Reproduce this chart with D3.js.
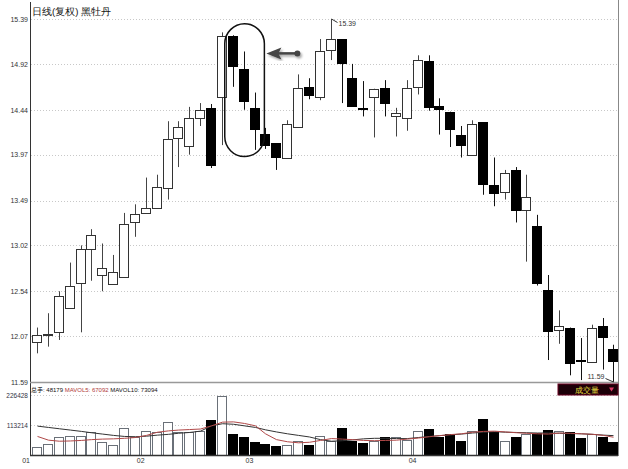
<!DOCTYPE html>
<html>
<head>
<meta charset="utf-8">
<script src="https://cdn.jsdelivr.net/npm/d3@7"></script>
<style>
  html, body { margin: 0; padding: 0; background: #fff; }
  svg { display: block; }
  text { font-family: "Liberation Sans", Arial, sans-serif; }
</style>
</head>
<body>
<svg id="chart" width="628" height="469"></svg>
<script>
// daily candles, 黑牡丹
const opens = [12.01, 12.08, 12.11, 12.37, 12.62, 12.98, 12.71, 12.61, 12.68, 13.27,
  13.36, 13.41, 13.62, 14.14, 14.06, 14.36, 14.46, 14.57, 15.21, 14.87,
  14.46, 14.19, 14.09, 13.93, 14.26, 14.68, 14.58, 15.06, 15.18, 14.77,
  14.46, 14.58, 14.67, 14.38, 14.36, 14.68, 14.95, 14.48, 14.42, 14.18,
  13.97, 14.31, 13.65, 13.58, 13.81, 13.39, 13.22, 12.55, 12.14, 12.16,
  11.82, 11.80, 12.18, 11.94];
const highs = [12.16, 12.31, 12.54, 12.84, 13.02, 13.19, 13.04, 12.92, 13.36, 13.45,
  13.73, 13.76, 14.32, 14.32, 14.47, 14.51, 14.50, 15.25, 15.22, 15.05,
  14.62, 14.25, 14.09, 14.33, 14.81, 14.77, 15.18, 15.39, 15.18, 14.92,
  14.74, 14.66, 14.75, 14.46, 14.75, 15.01, 15.01, 14.56, 14.42, 14.27,
  14.33, 14.31, 13.94, 13.81, 13.84, 13.76, 13.34, 12.71, 12.34, 12.16,
  12.05, 12.19, 12.26, 11.98];
const lows = [11.89, 11.96, 12.03, 12.36, 12.11, 12.65, 12.54, 12.61, 12.68, 13.11,
  13.35, 13.41, 13.50, 13.84, 13.97, 14.27, 13.83, 14.07, 14.68, 14.44,
  14.02, 14.03, 13.81, 13.93, 14.26, 14.55, 14.54, 14.96, 14.51, 14.47,
  14.37, 14.15, 14.37, 14.16, 14.22, 14.60, 14.43, 14.18, 14.05, 13.94,
  13.97, 13.55, 13.43, 13.50, 13.26, 12.85, 12.60, 11.82, 11.99, 11.66,
  11.61, 11.80, 11.72, 11.59];
const closes = [12.08, 12.09, 12.49, 12.60, 12.98, 13.13, 12.78, 12.74, 13.24, 13.35,
  13.41, 13.63, 14.13, 14.26, 14.35, 14.44, 13.86, 15.21, 14.90, 14.54,
  14.24, 14.08, 13.94, 14.29, 14.67, 14.60, 15.06, 15.18, 14.93, 14.48,
  14.45, 14.66, 14.51, 14.41, 14.67, 14.96, 14.47, 14.45, 14.24, 14.08,
  14.29, 13.66, 13.57, 13.78, 13.39, 13.53, 12.62, 12.12, 12.18, 11.79,
  11.81, 12.16, 12.06, 11.81];
const volumes = [31300, 41500, 66800, 70500, 70500, 88000, 47900, 37700, 100700, 66800,
  91700, 88000, 125700, 85600, 85600, 91700, 132000, 223800, 79200, 66800,
  50200, 41500, 32700, 37700, 51600, 39000, 72900, 54000, 100700, 51600,
  44000, 54000, 66800, 66800, 58000, 91700, 98000, 69000, 79200, 51600,
  91700, 135800, 88000, 51600, 66800, 79200, 83000, 95500, 89400, 88000,
  64200, 79200, 69000, 48179];
const mavol5 = [70000, 56000, 52000, 53000, 55000, 58000, 60000, 61000, 63000, 66000,
  74000, 86000, 91000, 94000, 96000, 98000, 110000, 124000, 125000, 119000,
  110000, 80000, 58000, 50000, 46000, 48000, 55000, 62000, 60000, 58000,
  55000, 54000, 55000, 56000, 60000, 64000, 69000, 73000, 77000, 80000,
  86000, 89000, 90000, 87000, 84000, 82000, 80000, 79000, 83000, 82000,
  80000, 78000, 74000, 67092];
const mavol10 = [109000, 104000, 99000, 94000, 89000, 84000, 79000, 74000, 70000, 69000,
  71000, 75000, 78000, 82000, 85000, 90000, 110000, 118000, 116000, 110000,
  104000, 95000, 87000, 80000, 74000, 68000, 58000, 52000, 54000, 57000,
  61000, 63000, 63000, 62000, 62000, 66000, 70000, 73000, 76000, 79000,
  83000, 86000, 88000, 86000, 85000, 84000, 83000, 83000, 82000, 81000,
  80000, 78000, 75000, 73094];

const priceTicks = [15.39, 14.92, 14.44, 13.97, 13.49, 13.02, 12.54, 12.07, 11.59];
const volTicks = [226428, 113214];
const monthLabels = ["01", "02", "03", "04"];
const monthStart = [0, 10, 20, 35];

const svg = d3.select("#chart");
const left = 30, right = 618;
const priceTop = 19, priceBottom = 382, volBottom = 455;

const x = d3.scaleBand()
  .domain(d3.range(opens.length))
  .range([32, 618.5])
  .paddingInner(0.07);
const bw = Math.round(x.bandwidth());
const cx = (i) => Math.round(x(i) + bw / 2) + 0.5;

const y = d3.scaleLinear().domain([11.59, 15.39]).range([priceBottom, priceTop]);
const yv = d3.scaleLinear().domain([0, 226428]).range([volBottom, 395]);

// grid lines
svg.append("g")
  .selectAll("line")
  .data(priceTicks.slice(0, -1))
  .join("line")
  .attr("x1", left + 1).attr("x2", right)
  .attr("y1", (d) => Math.round(y(d)) + 0.5)
  .attr("y2", (d) => Math.round(y(d)) + 0.5)
  .attr("stroke", "#c8c8c8")
  .attr("stroke-dasharray", "1,2");

svg.append("g")
  .selectAll("line")
  .data(volTicks)
  .join("line")
  .attr("x1", left + 1).attr("x2", right)
  .attr("y1", (d) => Math.round(yv(d)) + 0.5)
  .attr("y2", (d) => Math.round(yv(d)) + 0.5)
  .attr("stroke", "#c8c8c8")
  .attr("stroke-dasharray", "1,2");

// y axis labels
const yAxis = svg.append("g")
  .attr("transform", `translate(${left - 2},0)`)
  .call(d3.axisLeft(y).tickValues(priceTicks).tickSize(0).tickPadding(0).tickFormat(d3.format(".2f")));
yAxis.select(".domain").remove();
yAxis.selectAll("text").attr("font-size", 7).attr("fill", "#333")
  .attr("font-family", "Liberation Sans, Arial, sans-serif");

const vAxis = svg.append("g")
  .attr("transform", `translate(${left - 2},0)`)
  .call(d3.axisLeft(yv).tickValues(volTicks).tickSize(0).tickPadding(0).tickFormat(d3.format("d")));
vAxis.select(".domain").remove();
vAxis.selectAll("text").attr("font-size", 6.5).attr("fill", "#334")
  .attr("font-family", "Liberation Sans, Arial, sans-serif");

// month labels
svg.append("g")
  .selectAll("text")
  .data(monthLabels)
  .join("text")
  .attr("x", (d, k) => k === 0 ? left : x(monthStart[k]))
  .attr("y", 463)
  .attr("text-anchor", (d, k) => k === 0 ? "end" : "middle")
  .attr("font-size", 7)
  .attr("fill", "#333")
  .text((d) => d);

// candles
const up = (i) => closes[i] >= opens[i];
const candles = svg.append("g")
  .selectAll("g")
  .data(d3.range(opens.length))
  .join("g");

candles.append("line")
  .attr("x1", cx).attr("x2", cx)
  .attr("y1", (i) => y(highs[i]))
  .attr("y2", (i) => y(lows[i]))
  .attr("stroke", (i) => up(i) ? "#444" : "#111");

candles.append("rect")
  .attr("x", (i) => Math.round(x(i)) + 0.5)
  .attr("width", bw - 1)
  .attr("y", (i) => Math.round(y(Math.max(opens[i], closes[i]))) + 0.5)
  .attr("height", (i) => Math.max(1, Math.round(Math.abs(y(opens[i]) - y(closes[i])))))
  .attr("fill", (i) => up(i) ? "#fff" : "#000")
  .attr("stroke", (i) => up(i) ? "#333" : "#000");

// volume bars
svg.append("g")
  .selectAll("rect")
  .data(d3.range(volumes.length))
  .join("rect")
  .attr("x", (i) => Math.round(x(i)) + 0.5)
  .attr("width", bw - 1)
  .attr("y", (i) => Math.round(yv(volumes[i])) + 0.5)
  .attr("height", (i) => volBottom - Math.round(yv(volumes[i])))
  .attr("fill", (i) => up(i) ? "#fff" : "#000")
  .attr("stroke", (i) => up(i) ? "#6a7078" : "#000");

const line = (vals) => d3.line()
  .x((d, i) => cx(i))
  .y((d) => yv(d))(vals);

svg.append("path").attr("d", line(mavol10))
  .attr("fill", "none").attr("stroke", "#333").attr("stroke-width", 1);
svg.append("path").attr("d", line(mavol5))
  .attr("fill", "none").attr("stroke", "#b04848").attr("stroke-width", 1);

// frame
svg.append("line").attr("x1", left + 0.5).attr("x2", left + 0.5).attr("y1", 2).attr("y2", volBottom + 1)
  .attr("stroke", "#333");
svg.append("line").attr("x1", right + 0.5).attr("x2", right + 0.5).attr("y1", 0).attr("y2", volBottom + 1)
  .attr("stroke", "#888");
svg.append("line").attr("x1", left).attr("x2", right).attr("y1", priceBottom + 0.5).attr("y2", priceBottom + 0.5)
  .attr("stroke", "#999").attr("stroke-width", 1.5);
svg.append("line").attr("x1", left).attr("x2", right).attr("y1", volBottom + 0.5).attr("y2", volBottom + 0.5)
  .attr("stroke", "#333").attr("stroke-width", 1.5);

// title
svg.append("text")
  .attr("x", left + 2).attr("y", 15)
  .attr("font-family", "Noto Sans CJK SC, sans-serif")
  .attr("font-size", 9.5).attr("fill", "#111")
  .text("日线(复权) 黑牡丹");

// volume legend
const last = volumes.length - 1;
const legend = svg.append("text")
  .attr("x", left + 1).attr("y", 391.5)
  .attr("font-size", 6);
legend.append("tspan").attr("font-family", "Noto Sans CJK SC, sans-serif").attr("fill", "#111").text("总手");
legend.append("tspan").attr("fill", "#111").text(": " + volumes[last] + " ");
legend.append("tspan").attr("fill", "#b03838").text("MAVOL5: " + mavol5[last] + " ");
legend.append("tspan").attr("fill", "#111").text("MAVOL10: " + mavol10[last]);

// 成交量 box
svg.append("rect").attr("x", 558).attr("y", 384).attr("width", 60).attr("height", 11)
  .attr("fill", "#1c0008").attr("stroke", "#6a0020");
svg.append("text").attr("x", 587).attr("y", 392.5).attr("text-anchor", "middle")
  .attr("font-family", "Noto Sans CJK SC, sans-serif")
  .attr("font-size", 7.5).attr("fill", "#e8dc40").text("成交量");
svg.append("path").attr("d", "M609,387.5 L614,387.5 L611.5,391.5 Z").attr("fill", "#e03868");

// high / low flags
const hiIdx = d3.maxIndex(highs), loIdx = d3.minIndex(lows);
svg.append("path")
  .attr("d", `M${cx(hiIdx)},${y(highs[hiIdx])} L${cx(hiIdx) + 6},${y(highs[hiIdx]) + 3.5}`)
  .attr("stroke", "#333").attr("fill", "none");
svg.append("text").attr("x", cx(hiIdx) + 7).attr("y", y(highs[hiIdx]) + 7)
  .attr("font-family", "DejaVu Sans Mono, monospace").attr("font-size", 7).attr("fill", "#333")
  .text(highs[hiIdx].toFixed(2));
svg.append("path")
  .attr("d", `M${cx(loIdx)},${y(lows[loIdx])} L${cx(loIdx) - 8},${y(lows[loIdx]) - 3.5}`)
  .attr("stroke", "#333").attr("fill", "none");
svg.append("text").attr("x", cx(loIdx) - 9).attr("y", y(lows[loIdx]) - 3)
  .attr("text-anchor", "end")
  .attr("font-family", "DejaVu Sans Mono, monospace").attr("font-size", 7).attr("fill", "#333")
  .text(lows[loIdx].toFixed(2));

// annotation: rounded box around the falling candles and an arrow
const boxFrom = 18, boxTo = 21;
const bx0 = x(boxFrom) - 3, bx1 = x(boxTo) + 4;
const by0 = y(15.34), by1 = y(13.95);
svg.append("rect")
  .attr("x", bx0).attr("y", by0)
  .attr("width", bx1 - bx0).attr("height", by1 - by0)
  .attr("rx", (bx1 - bx0) / 2).attr("ry", 20)
  .attr("fill", "none").attr("stroke", "#111").attr("stroke-width", 1.5);

const defs = svg.append("defs");
defs.append("filter").attr("id", "shadow")
  .append("feDropShadow").attr("dx", 1.5).attr("dy", 2).attr("stdDeviation", 1.2)
  .attr("flood-color", "#000").attr("flood-opacity", 0.35);

const ay = y(15.03);
const ax = bx1 + 2;
const arrow = svg.append("g").attr("filter", "url(#shadow)");
arrow.append("line").attr("x1", ax + 10).attr("x2", ax + 30).attr("y1", ay).attr("y2", ay)
  .attr("stroke", "#444").attr("stroke-width", 2.5);
arrow.append("path")
  .attr("d", `M${ax},${ay} L${ax + 15},${ay - 6} L${ax + 12},${ay} L${ax + 15},${ay + 6} Z`)
  .attr("fill", "#444");
arrow.append("circle").attr("cx", ax + 31).attr("cy", ay).attr("r", 3).attr("fill", "#444");
</script>
</body>
</html>
